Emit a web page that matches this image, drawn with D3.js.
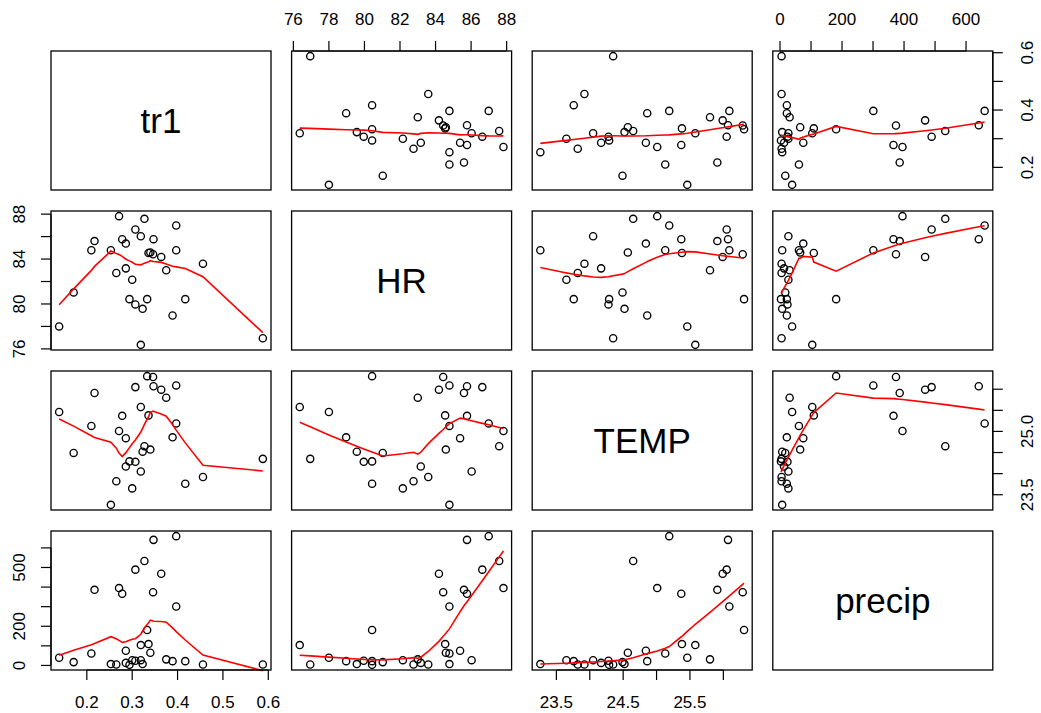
<!DOCTYPE html>
<html><head><meta charset="utf-8">
<script src="https://cdn.jsdelivr.net/npm/d3@7"></script>
<style>body{margin:0;background:#fff} svg{display:block}</style>
</head><body><svg id="c" width="1041" height="713"></svg>
<script>
// ---- data (one entry per observation) ----
const varNames = ["tr1", "HR", "TEMP", "precip"];
const tr1 = [0.139,0.171,0.210,0.217,0.253,0.265,0.271,0.278,0.286,0.286,0.294,0.300,0.307,0.307,0.319,0.319,0.323,0.327,0.333,0.336,0.340,0.346,0.347,0.364,0.375,0.389,0.397,0.397,0.417,0.456,0.588];
const HR = [78.0,81.03,84.78,85.6,84.78,82.76,87.82,85.77,85.38,83.17,80.43,82.16,86.63,79.96,76.36,86.03,79.57,87.58,80.43,84.54,84.58,84.43,85.77,84.19,83.0,78.97,86.99,84.78,80.43,83.59,76.95];
const TEMP = [25.46,24.49,25.13,25.91,23.26,23.82,25.01,25.37,24.84,24.17,24.29,23.65,26.05,24.28,25.58,24.05,24.52,24.65,26.31,25.38,24.57,26.29,26.07,25.99,25.80,24.86,25.19,26.09,23.76,23.92,24.35];
const precip = [39,17,61,386,7,5,395,366,75,13,3,27,489,24,104,27,7,533,181,109,65,374,641,468,31,22,660,301,22,5,5];

// ---- ticks and labels ----
const tr1Ticks = [0.2,0.3,0.4,0.5,0.6];
const HRTicks = [76,78,80,82,84,86,88];
const TEMPTicks = [23.5,24.0,24.5,25.0,25.5,26.0];
const precipTicks = [0,100,200,300,400,500,600];
const tr1BottomLabels = [0.2,0.3,0.4,0.5,0.6];
const tr1RightLabels = [0.2,0.4,0.6];
const HRTopLabels = [76,78,80,82,84,86,88];
const HRLeftLabels = [76,80,84,88];
const TEMPBottomLabels = [23.5,24.5,25.5];
const TEMPRightLabels = [23.5,25.0];
const precipTopLabels = [0,200,400,600];
const precipLeftLabels = [0,200,500];

const data = {tr1, HR, TEMP, precip};
const ticks = {tr1: tr1Ticks, HR: HRTicks, TEMP: TEMPTicks, precip: precipTicks};
const fmt = {tr1: d3.format(".1f"), HR: d3.format("d"), TEMP: d3.format(".1f"), precip: d3.format("d")};

// ---- layout ----
const left0 = 51, colStep = 240.6, pw = 220;
const top0 = 51, rowStep = 160, ph = 139;
const font = "'Liberation Sans', Arial, sans-serif";
const axFont = 17, diagFont = 35, tickLen = 10;

const svg = d3.select("#c");

function ext(v) {
  const [a, b] = d3.extent(v); const r = b - a;
  return [a - 0.04 * r, b + 0.04 * r];
}
function xScale(name, j) { return d3.scaleLinear().domain(ext(data[name])).range([left0 + j * colStep, left0 + j * colStep + pw]); }
function yScale(name, i) { return d3.scaleLinear().domain(ext(data[name])).range([top0 + i * rowStep + ph, top0 + i * rowStep]); }

// ---- R's lowess (clowess port) ----
function lowess(xin, yin, f = 2/3, nsteps = 3) {
  const n = xin.length;
  const idx = d3.range(n).sort((a, b) => xin[a] - xin[b] || a - b);
  const x = [NaN, ...idx.map(k => xin[k])];
  const y = [NaN, ...idx.map(k => yin[k])];
  const ys = new Array(n + 1).fill(0), rw = new Array(n + 1).fill(1), res = new Array(n + 1).fill(0);
  const delta = 0.01 * (x[n] - x[1]);
  const ns = Math.max(2, Math.min(n, Math.floor(f * n + 1e-7)));
  function lowest(xs, nleft, nright, userw) {
    const w = res;
    const range = x[n] - x[1];
    const h = Math.max(xs - x[nleft], x[nright] - xs);
    const h9 = 0.999 * h, h1 = 0.001 * h;
    let a = 0, j = nleft;
    while (j <= n) {
      w[j] = 0;
      const r = Math.abs(x[j] - xs);
      if (r <= h9) {
        if (r <= h1) w[j] = 1; else w[j] = Math.pow(1 - Math.pow(r / h, 3), 3);
        if (userw) w[j] *= rw[j];
        a += w[j];
      } else if (x[j] > xs) break;
      j++;
    }
    const nrt = j - 1;
    if (a <= 0) return null;
    for (j = nleft; j <= nrt; j++) w[j] /= a;
    if (h > 0) {
      a = 0;
      for (j = nleft; j <= nrt; j++) a += w[j] * x[j];
      let b = xs - a, c = 0;
      for (j = nleft; j <= nrt; j++) c += w[j] * (x[j] - a) * (x[j] - a);
      if (Math.sqrt(c) > 0.001 * range) {
        b /= c;
        for (j = nleft; j <= nrt; j++) w[j] *= (b * (x[j] - a) + 1);
      }
    }
    let s = 0;
    for (j = nleft; j <= nrt; j++) s += w[j] * y[j];
    return s;
  }
  let iter = 1;
  while (iter <= nsteps + 1) {
    let nleft = 1, nright = ns, last = 0, i = 1;
    for (;;) {
      if (nright < n) {
        const d1 = x[i] - x[nleft], d2 = x[nright + 1] - x[i];
        if (d1 > d2) { nleft++; nright++; continue; }
      }
      const v = lowest(x[i], nleft, nright, iter > 1);
      ys[i] = v === null ? y[i] : v;
      if (last < i - 1) {
        const denom = x[i] - x[last];
        for (let j = last + 1; j < i; j++) {
          const alpha = (x[j] - x[last]) / denom;
          ys[j] = alpha * ys[i] + (1 - alpha) * ys[last];
        }
      }
      last = i;
      const cut = x[last] + delta;
      for (i = last + 1; i <= n; i++) {
        if (x[i] > cut) break;
        if (x[i] === x[last]) { ys[i] = ys[last]; last = i; }
      }
      i = Math.max(last + 1, i - 1);
      if (last >= n) break;
    }
    const r0 = [];
    for (let k = 1; k <= n; k++) r0.push(y[k] - ys[k]);
    const sc = d3.mean(r0, Math.abs);
    if (iter > nsteps) break;
    const sorted = r0.map(Math.abs).sort((a, b) => a - b);
    const m1 = Math.floor(n / 2);
    let cmad;
    if (n % 2 === 0) cmad = 3 * (sorted[m1] + sorted[n - m1 - 1]); else cmad = 6 * sorted[m1];
    if (cmad < 1e-7 * sc) break;
    const c9 = 0.999 * cmad, c1 = 0.001 * cmad;
    for (let k = 1; k <= n; k++) {
      const r = Math.abs(r0[k - 1]);
      rw[k] = r <= c1 ? 1 : r <= c9 ? Math.pow(1 - Math.pow(r / cmad, 2), 2) : 0;
    }
    iter++;
  }
  return d3.range(1, n + 1).map(k => [x[k], ys[k]]);
}

// ---- panels ----
const nv = varNames.length;
for (let i = 0; i < nv; i++) {
  for (let j = 0; j < nv; j++) {
    const x0 = left0 + j * colStep, y0 = top0 + i * rowStep;
    const g = svg.append("g");
    if (i === j) {
      g.append("text").attr("x", x0 + pw / 2).attr("y", y0 + ph / 2)
        .attr("text-anchor", "middle").attr("dominant-baseline", "central")
        .style("font-family", font).style("font-size", diagFont + "px").text(varNames[i]);
    } else {
      const xs = xScale(varNames[j], j), ys = yScale(varNames[i], i);
      const xv = data[varNames[j]], yv = data[varNames[i]];
      g.selectAll("circle").data(d3.range(xv.length)).join("circle")
        .attr("cx", k => xs(xv[k])).attr("cy", k => ys(yv[k])).attr("r", 3.6)
        .attr("fill", "none").attr("stroke", "#000").attr("stroke-width", 1.35);
      const sm = lowess(xv, yv);
      g.append("path").attr("d", d3.line().x(d => xs(d[0])).y(d => ys(d[1]))(sm))
        .attr("fill", "none").attr("stroke", "#ff0000").attr("stroke-width", 1.6);
    }
    g.append("rect").attr("x", x0).attr("y", y0).attr("width", pw).attr("height", ph)
      .attr("fill", "none").attr("stroke", "#000").attr("stroke-width", 1.3);
  }
}

// ---- axes ----
function drawAxis(side, name, idx, labels) {
  const g = svg.append("g").attr("stroke", "#000").attr("stroke-width", 1.2);
  const tv = ticks[name];
  if (side === "bottom" || side === "top") {
    const sc = xScale(name, idx);
    const yb = side === "bottom" ? top0 + (nv - 1) * rowStep + ph : top0;
    const dir = side === "bottom" ? 1 : -1;
    g.append("line").attr("x1", sc(tv[0])).attr("x2", sc(tv[tv.length - 1])).attr("y1", yb).attr("y2", yb);
    g.selectAll("line.t").data(tv).join("line").attr("class", "t")
      .attr("x1", d => sc(d)).attr("x2", d => sc(d)).attr("y1", yb).attr("y2", yb + dir * tickLen);
    svg.append("g").selectAll("text").data(labels).join("text")
      .attr("x", d => sc(d)).attr("y", side === "bottom" ? yb + 38 : yb - 26)
      .attr("text-anchor", "middle").style("font-family", font).style("font-size", axFont + "px")
      .text(d => fmt[name](d));
  } else {
    const sc = yScale(name, idx);
    const xb = side === "left" ? left0 : left0 + (nv - 1) * colStep + pw;
    const dir = side === "left" ? -1 : 1;
    g.append("line").attr("y1", sc(tv[0])).attr("y2", sc(tv[tv.length - 1])).attr("x1", xb).attr("x2", xb);
    g.selectAll("line.t").data(tv).join("line").attr("class", "t")
      .attr("y1", d => sc(d)).attr("y2", d => sc(d)).attr("x1", xb).attr("x2", xb + dir * tickLen);
    const bx = side === "left" ? xb - 26 : xb + 40;
    svg.append("g").selectAll("text").data(labels).join("text")
      .attr("transform", d => `translate(${bx},${sc(d)}) rotate(-90)`)
      .attr("text-anchor", "middle").style("font-family", font).style("font-size", axFont + "px")
      .text(d => fmt[name](d));
  }
}
drawAxis("bottom", "tr1", 0, tr1BottomLabels);
drawAxis("bottom", "TEMP", 2, TEMPBottomLabels);
drawAxis("top", "HR", 1, HRTopLabels);
drawAxis("top", "precip", 3, precipTopLabels);
drawAxis("left", "HR", 1, HRLeftLabels);
drawAxis("left", "precip", 3, precipLeftLabels);
drawAxis("right", "tr1", 0, tr1RightLabels);
drawAxis("right", "TEMP", 2, TEMPRightLabels);
</script></body></html>
